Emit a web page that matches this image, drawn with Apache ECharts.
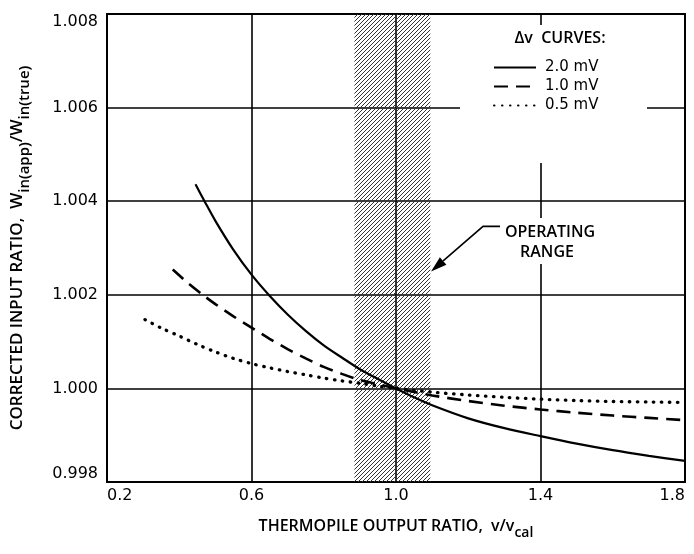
<!DOCTYPE html>
<html>
<head>
<meta charset="utf-8">
<script src="https://cdn.jsdelivr.net/npm/echarts@6/dist/echarts.min.js"></script>
<style>
html, body { margin: 0; padding: 0; background: #fff; }
#chart { width: 694px; height: 554px; }
</style>
</head>
<body>
<div id="chart"></div>
<script>
// tick values
var xTicks = [0.2, 0.6, 1.0, 1.4, 1.8];
var yTicks = [0.998, 1.000, 1.002, 1.004, 1.006, 1.008];

var curveNames = ['2.0 mV', '1.0 mV', '0.5 mV'];

// [v/vcal, Win(app)/Win(true)]
var curve20 = [
  [0.445, 1.00436], [0.47, 1.00400], [0.5, 1.00358], [0.55, 1.00296], [0.6, 1.00243],
  [0.65, 1.00198], [0.7, 1.00158], [0.75, 1.00123], [0.8, 1.00092], [0.85, 1.00066],
  [0.9, 1.00041], [0.95, 1.00020], [1.0, 1.00000], [1.05, 0.99981], [1.1, 0.99964],
  [1.2, 0.99936], [1.3, 0.99915], [1.4, 0.99898], [1.5, 0.99882], [1.6, 0.99868],
  [1.7, 0.99856], [1.8, 0.99845]
];
var curve10 = [
  [0.382, 1.00254], [0.42, 1.00228], [0.465, 1.00200], [0.5, 1.00180], [0.55, 1.00154],
  [0.6, 1.00130], [0.65, 1.00106], [0.7, 1.00084], [0.75, 1.00064], [0.8, 1.00046],
  [0.85, 1.00031], [0.9, 1.00018], [0.95, 1.00009], [1.0, 1.00000], [1.1, 0.99985],
  [1.2, 0.99973], [1.3, 0.99963], [1.4, 0.99955], [1.5, 0.99948], [1.6, 0.99942],
  [1.7, 0.99937], [1.8, 0.99932]
];
var curve05 = [
  [0.305, 1.00147], [0.35, 1.00129], [0.4, 1.00112], [0.45, 1.00094], [0.5, 1.00078],
  [0.55, 1.00064], [0.6, 1.00053], [0.65, 1.00044], [0.7, 1.00036], [0.75, 1.00029],
  [0.8, 1.00022], [0.85, 1.00016], [0.9, 1.00011], [0.95, 1.00005], [1.0, 1.00000],
  [1.1, 0.99992], [1.2, 0.99986], [1.3, 0.99981], [1.4, 0.99977], [1.5, 0.99974],
  [1.6, 0.99972], [1.7, 0.99971], [1.8, 0.99970]
];

var operatingRange = [0.885, 1.095];

var FONT = 'Open Sans';
var NUMFONT = 'DejaVu Sans';

// diagonal hatch for the operating range band
function hatchPattern() {
  var c = document.createElement('canvas');
  c.width = 4; c.height = 4;
  var g = c.getContext('2d');
  g.strokeStyle = '#333';
  g.lineWidth = 1;
  g.beginPath();
  g.moveTo(0, 4); g.lineTo(4, 0);
  g.moveTo(-1, 1); g.lineTo(1, -1);
  g.moveTo(3, 5); g.lineTo(5, 3);
  g.stroke();
  return c;
}

var chart = echarts.init(document.getElementById('chart'));

var xTitleRich = {
  t: { fontFamily: FONT, fontSize: 16, fontWeight: 600, color: '#000' },
  s: { fontFamily: FONT, fontSize: 14, fontWeight: 600, color: '#000', padding: [13, 0, 0, 0] }
};
var yTitleRich = {
  t: { fontFamily: FONT, fontSize: 17, fontWeight: 600, color: '#000' },
  s: { fontFamily: FONT, fontSize: 15, fontWeight: 600, color: '#000', padding: [14, 0, 0, 0] }
};

option = {
  backgroundColor: '#fff',
  animation: false,
  grid: {
    left: 107, right: 9, top: 14, bottom: 72,
    show: true, borderColor: '#000', borderWidth: 2
  },
  legend: {
    orient: 'vertical',
    left: 488, top: 55,
    itemWidth: 42, itemHeight: 14, itemGap: 4,
    z: 10,
    data: curveNames,
    itemStyle: { opacity: 0 },
    textStyle: { fontFamily: NUMFONT, fontSize: 15, color: '#000', padding: [0, 0, 0, 4] }
  },
  xAxis: {
    type: 'value',
    min: 0.2, max: 1.8,
    name: '{t|THERMOPILE OUTPUT RATIO,  v/v}{s|cal}',
    nameLocation: 'middle',
    nameGap: 31,
    nameTextStyle: { rich: xTitleRich },
    axisLine: { show: true, lineStyle: { color: '#000', width: 2 } },
    axisTick: { show: false, customValues: xTicks },
    axisLabel: {
      customValues: xTicks,
      alignMinLabel: 'left', alignMaxLabel: 'right',
      fontFamily: NUMFONT, fontSize: 16, color: '#000', margin: 6,
      formatter: function (v) { return v.toFixed(1); }
    },
    splitLine: { show: true, lineStyle: { color: '#000', width: 1.6 } }
  },
  yAxis: {
    type: 'value',
    min: 0.998, max: 1.008,
    name: '{t|CORRECTED INPUT RATIO,  W}{s|in(app)}{t|/W}{s|in(true)}',
    nameLocation: 'middle',
    nameRotate: 90,
    nameGap: 75,
    nameTextStyle: { rich: yTitleRich },
    axisLine: { show: true, lineStyle: { color: '#000', width: 2 } },
    axisTick: { show: false, customValues: yTicks },
    axisLabel: {
      customValues: yTicks,
      verticalAlignMinLabel: 'bottom', verticalAlignMaxLabel: 'top',
      fontFamily: NUMFONT, fontSize: 16, color: '#000', margin: 9,
      formatter: function (v) { return v.toFixed(3); }
    },
    splitLine: { show: true, lineStyle: { color: '#000', width: 1.6 } }
  },
  series: [
    {
      name: curveNames[0],
      type: 'line',
      data: curve20,
      smooth: 0.3,
      symbol: 'none',
      z: 5,
      itemStyle: { color: '#000' },
      lineStyle: { color: '#000', width: 2.2 },
      markArea: {
        silent: true,
        itemStyle: { color: { image: hatchPattern(), repeat: 'repeat' } },
        data: [[{ xAxis: operatingRange[0] }, { xAxis: operatingRange[1] }]]
      }
    },
    {
      name: curveNames[1],
      type: 'line',
      data: curve10,
      smooth: 0.3,
      symbol: 'none',
      z: 5,
      itemStyle: { color: '#000' },
      lineStyle: { color: '#000', width: 2.6, type: [14, 8] }
    },
    {
      name: curveNames[2],
      type: 'line',
      data: curve05,
      smooth: 0.3,
      symbol: 'none',
      z: 5,
      itemStyle: { color: '#000' },
      lineStyle: { color: '#000', width: 3.3, type: [0.5, 7.5], cap: 'round' }
    }
  ]
};
chart.setOption(option);

// annotations: legend heading and the "operating range" callout
var tip = chart.convertToPixel({ gridIndex: 0 }, [1.097, 1.0025]);
var bend = [tip[0] + 52, tip[1] - 45];
var dx = tip[0] - bend[0], dy = tip[1] - bend[1];
var len = Math.sqrt(dx * dx + dy * dy);
var ux = dx / len, uy = dy / len;
var base = [tip[0] - 16 * ux, tip[1] - 16 * uy];
var px = -uy * 5, py = ux * 5;
var labelFont = '600 16px "' + FONT + '"';

chart.setOption({
  graphic: [
    { type: 'rect', z: 3, shape: { x: 460, y: 25, width: 187, height: 138 }, style: { fill: '#fff' } },
    { type: 'text', z: 10, style: { text: '\u0394v  CURVES:', x: 560, y: 38, align: 'center', verticalAlign: 'middle',
      font: labelFont, fill: '#000' } },
    { type: 'rect', z: 3, shape: { x: 498, y: 218, width: 104, height: 46 }, style: { fill: '#fff' } },
    { type: 'text', z: 10, style: { text: 'OPERATING', x: 550, y: 232, align: 'center', verticalAlign: 'middle',
      font: labelFont, fill: '#000' } },
    { type: 'text', z: 10, style: { text: 'RANGE', x: 547, y: 252, align: 'center', verticalAlign: 'middle',
      font: labelFont, fill: '#000' } },
    { type: 'polyline', z: 10, shape: { points: [[bend[0] + 17, bend[1]], bend, base] },
      style: { stroke: '#000', lineWidth: 1.6, fill: null } },
    { type: 'polygon', z: 10, shape: { points: [tip, [base[0] + px, base[1] + py], [base[0] - px, base[1] - py]] },
      style: { fill: '#000' } }
  ]
});
</script>
</body>
</html>
